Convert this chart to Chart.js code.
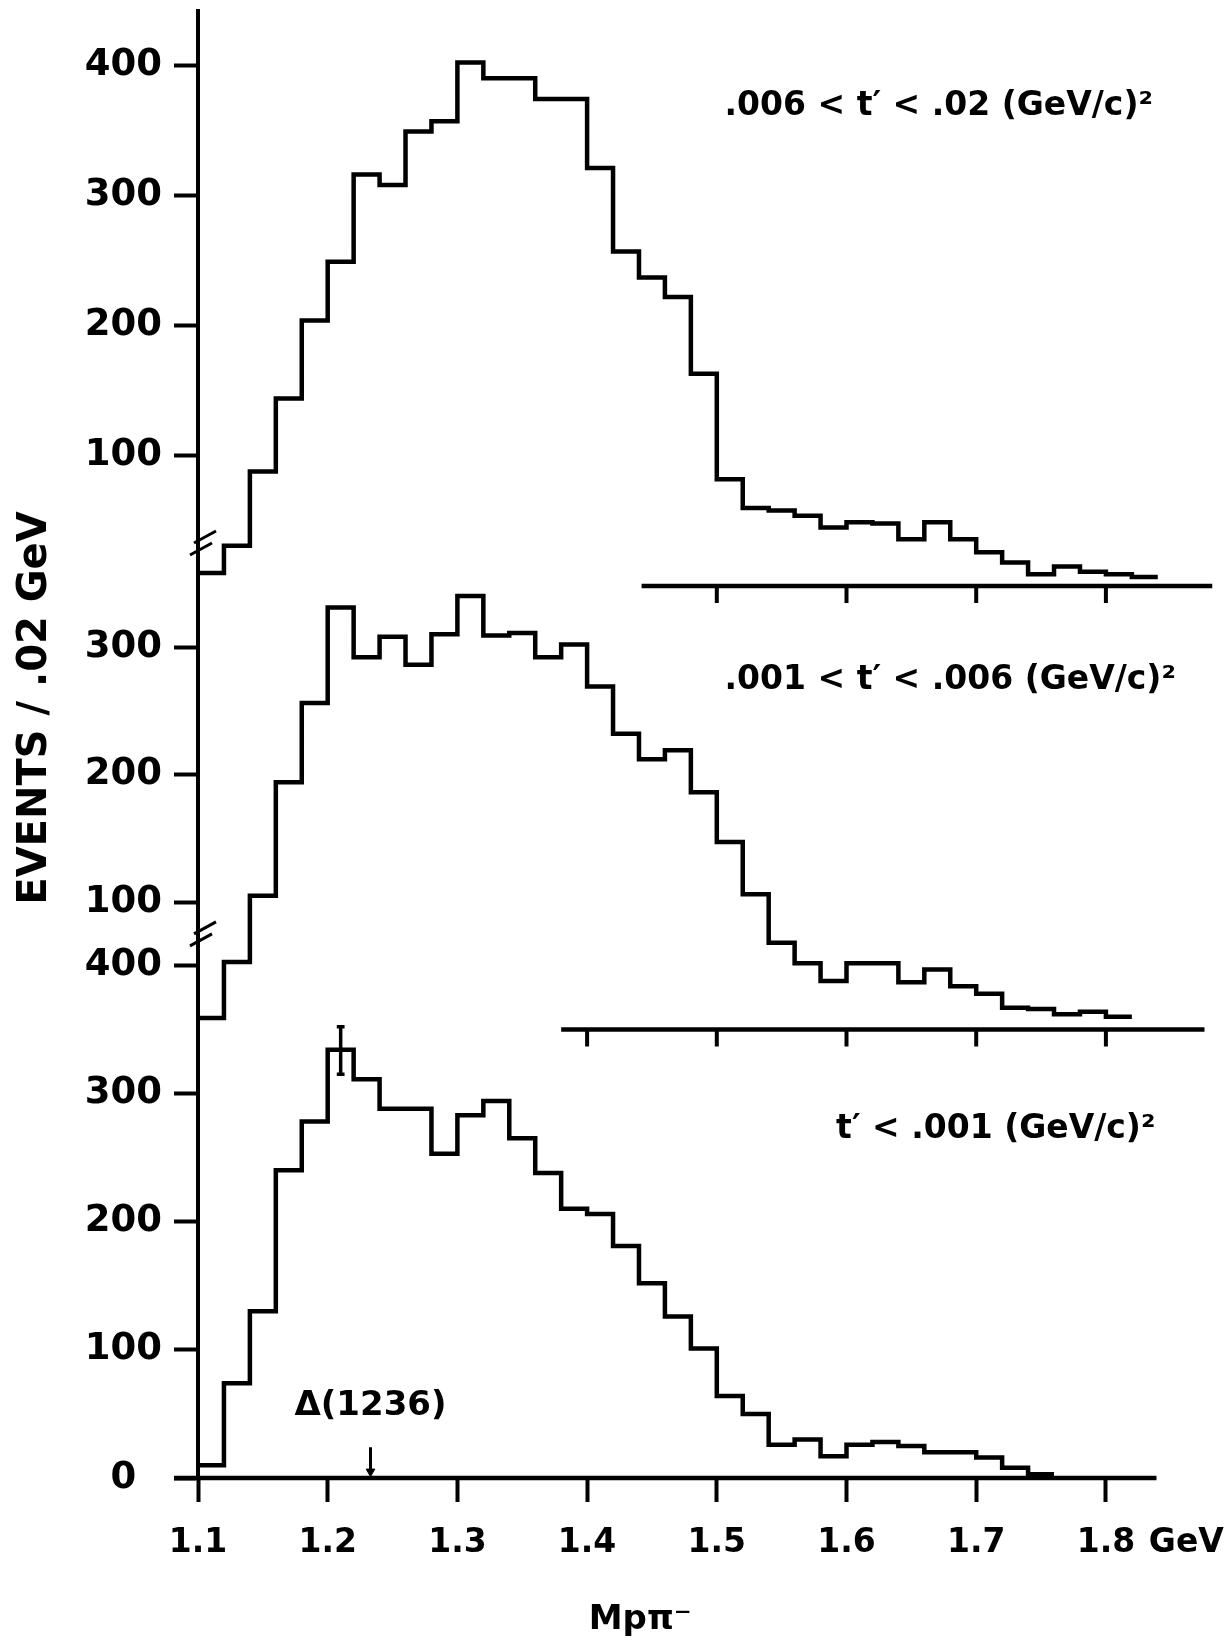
<!DOCTYPE html>
<html>
<head>
<meta charset="utf-8">
<script src="https://cdn.jsdelivr.net/npm/chart.js@4.4.1/dist/chart.umd.min.js"></script>
<style>
  html, body { margin: 0; padding: 0; background: #fff; }
  #wrap { width: 1228px; height: 1642px; position: relative; }
</style>
</head>
<body>
<div id="wrap"><canvas id="c"></canvas></div>
<script>
// ---------------- DATA ----------------
const binStart = 1.10;   // GeV, left edge of first bin
const binWidth = 0.02;   // GeV per bin

// .006 < t' < .02 (GeV/c)^2  (bins 1.10 .. 1.84)
const topValues = [10, 31, 88, 144, 204, 249, 316, 308, 349, 357, 402, 390, 390, 374, 374, 321, 257, 237, 222, 163,
                   82, 60, 58, 54, 45, 49, 48, 36, 49, 36, 26, 18, 9, 15, 11, 9, 7];
// .001 < t' < .006 (GeV/c)^2 (bins 1.10 .. 1.82)
const midValues = [9, 53, 105, 194, 256, 331, 292, 308, 286, 310, 340, 309, 311, 292, 302, 269, 232, 212, 219, 186,
                   147, 106, 68, 52, 38, 52, 52, 37, 47, 34, 28, 17, 16, 12, 14, 10];
// t' < .001 (GeV/c)^2        (bins 1.10 .. 1.76)
const botValues = [10, 74, 130, 240, 278, 334, 311, 288, 288, 253, 283, 294, 265, 238, 210, 206, 181, 152, 126, 101,
                   64, 50, 26, 30, 17, 26, 28, 25, 20, 20, 16, 8, 3];

// error bar on the 1.20-1.22 bin of the lowest histogram: [x, low, high]
const errorBar = [1.21, 315, 352];
// Delta(1236) marker position (GeV) and arrow span in events
const deltaMarker = [1.233, 24, 5];

const xTickValues = [1.1, 1.2, 1.3, 1.4, 1.5, 1.6, 1.7, 1.8, 1.862];
const xTickLabels = ['1.1', '1.2', '1.3', '1.4', '1.5', '1.6', '1.7', '1.8', 'GeV'];
const botTickValues = [0, 100, 200, 300, 400];
const midTickValues = [100, 200, 300];
const topTickValues = [100, 200, 300, 400];
const topBaseTicks = [1.5, 1.6, 1.7, 1.8];
const midBaseTicks = [1.4, 1.5, 1.6, 1.7, 1.8];
// extent (GeV) of each panel's zero line
const topBaseRange = [1.442, 1.882];
const midBaseRange = [1.38, 1.876];
const botBaseRange = [1.0815, 1.839];

const panelLabels = ['.006 < t\u2032 < .02 (GeV/c)\u00B2', '.001 < t\u2032 < .006 (GeV/c)\u00B2', 't\u2032 < .001 (GeV/c)\u00B2'];
const yTitle = 'EVENTS / .02 GeV';
const xTitle = 'Mp\u03C0\u207B';
const deltaLabel = '\u0394(1236)';

// ---------------- LAYOUT ----------------
const W = 1228, H = 1642;
const AREA = { left: 198, right: 1220, top: 11, bottom: 1478 };
const PX_PER_GEV = 1297;
const PANEL = {
  yTop: { zero: 586, k: 1.302 },
  yMid: { zero: 1029.5, k: 1.275 },
  yBot: { zero: 1478, k: 1.282 }
};
function rangeOf(p) { return { min: (p.zero - AREA.bottom) / p.k, max: (p.zero - AREA.top) / p.k }; }
const xMin = 1.1, xMax = 1.1 + (AREA.right - AREA.left) / PX_PER_GEV;

// annotation anchors (in data units of the given axis)
const labelAnchors = [
  { x: 1.506, y: 368, axis: 'yTop' },
  { x: 1.506, y: 274, axis: 'yMid' },
  { x: 1.592, y: 272, axis: 'yBot' }
];
const breakAnchors = [ { y: 33, axis: 'yTop' }, { y: 75, axis: 'yMid' } ];
const deltaLabelAnchor = { x: 1.233, y: 56 };
const xTitleAnchor = { x: 1.441, py: 1620 };
const yTitleAnchor = { px: 36, py: 708 };

const FONT = 'DejaVu Sans';

// ---------------- BUILD ----------------
function histPoints(vals) {
  const pts = vals.map((v, i) => ({ x: +(binStart + i * binWidth).toFixed(3), y: v }));
  pts.push({ x: +(binStart + vals.length * binWidth).toFixed(3), y: vals[vals.length - 1] });
  return pts;
}
function baseLine(r) { return [{ x: r[0], y: 0 }, { x: r[1], y: 0 }]; }

const lineBase = { borderColor: '#000', backgroundColor: '#000', pointRadius: 0, fill: false, tension: 0,
                   borderCapStyle: 'butt', borderJoinStyle: 'miter' };
const cap = 0.003;
const errData = [
  { x: errorBar[0], y: errorBar[1] }, { x: errorBar[0], y: errorBar[2] }, { x: errorBar[0], y: null },
  { x: errorBar[0] - cap, y: errorBar[2] }, { x: errorBar[0] + cap, y: errorBar[2] }, { x: errorBar[0], y: null },
  { x: errorBar[0] - cap, y: errorBar[1] }, { x: errorBar[0] + cap, y: errorBar[1] }
];

const datasets = [
  { ...lineBase, label: 'top', data: histPoints(topValues), yAxisID: 'yTop', stepped: 'before', borderWidth: 4.5 },
  { ...lineBase, label: 'mid', data: histPoints(midValues), yAxisID: 'yMid', stepped: 'before', borderWidth: 4.5 },
  { ...lineBase, label: 'bot', data: histPoints(botValues), yAxisID: 'yBot', stepped: 'before', borderWidth: 4.5 },
  { ...lineBase, label: 'topBase', data: baseLine(topBaseRange), yAxisID: 'yTop', borderWidth: 4.5, clip: false },
  { ...lineBase, label: 'midBase', data: baseLine(midBaseRange), yAxisID: 'yMid', borderWidth: 4.5, clip: false },
  { ...lineBase, label: 'botBase', data: baseLine(botBaseRange), yAxisID: 'yBot', borderWidth: 4.5, clip: false },
  { ...lineBase, label: 'err', data: errData, yAxisID: 'yBot', borderWidth: 3.5, spanGaps: false },
  { ...lineBase, label: 'delta', data: [{ x: deltaMarker[0], y: deltaMarker[1] }, { x: deltaMarker[0], y: deltaMarker[2] }],
    yAxisID: 'yBot', borderWidth: 3, pointRadius: [0, 5], pointStyle: 'triangle', rotation: 180,
    pointBackgroundColor: '#000', pointBorderColor: '#000', pointBorderWidth: 1 }
];

function yAxis(id, tickVals, weight, showBorder) {
  const r = rangeOf(PANEL[id]);
  return {
    type: 'linear', position: 'left', weight: weight, min: r.min, max: r.max,
    afterBuildTicks: s => { s.ticks = tickVals.map(v => ({ value: v })); },
    afterFit: s => { s.width = showBorder ? AREA.left : 0; s.paddingTop = 0; s.paddingBottom = 0; },
    grid: { drawOnChartArea: false, drawTicks: true, tickLength: 24, tickWidth: 4, color: '#000' },
    border: { display: showBorder, width: 4, color: '#000' },
    ticks: { color: '#000', font: { family: FONT, size: 37, weight: 'bold' }, padding: 12,
             crossAlign: 'center', autoSkip: false, callback: v => String(v) }
  };
}

const extras = {
  id: 'extras',
  afterLayout(chart) {
    // the two overlaid panel axes share the left gutter of the main axis
    ['yMid', 'yTop'].forEach(id => {
      const s = chart.scales[id];
      s.left = 0;
      s.width = s.right - s.left;
    });
  },
  afterDatasetsDraw(chart) {
    const { ctx } = chart;
    const sc = chart.scales;
    const x = sc.x;
    ctx.save();
    ctx.strokeStyle = '#000'; ctx.fillStyle = '#000'; ctx.lineCap = 'butt';
    // ticks under the upper two zero lines
    ctx.lineWidth = 4;
    const tl = 17;
    [[topBaseTicks, sc.yTop], [midBaseTicks, sc.yMid]].forEach(([vals, ys]) => {
      const y0 = ys.getPixelForValue(0);
      vals.forEach(v => {
        const px = x.getPixelForValue(v);
        ctx.beginPath(); ctx.moveTo(px, y0); ctx.lineTo(px, y0 + tl); ctx.stroke();
      });
    });
    // axis breaks
    ctx.lineWidth = 3;
    const ax = x.getPixelForValue(1.1) + 5;
    breakAnchors.forEach(b => {
      const cy = sc[b.axis].getPixelForValue(b.y);
      [[2, -6], [-2, 6]].forEach(([dx, dy]) => {
        ctx.beginPath();
        ctx.moveTo(ax + dx - 11, cy + dy + 6);
        ctx.lineTo(ax + dx + 11, cy + dy - 6);
        ctx.stroke();
      });
    });
    // panel labels
    ctx.font = 'bold 33px "' + FONT + '"';
    ctx.textBaseline = 'middle'; ctx.textAlign = 'left';
    labelAnchors.forEach((a, i) => {
      ctx.fillText(panelLabels[i], x.getPixelForValue(a.x), sc[a.axis].getPixelForValue(a.y));
    });
    // Delta label
    ctx.font = 'bold 34px "' + FONT + '"';
    ctx.textAlign = 'center';
    ctx.fillText(deltaLabel, x.getPixelForValue(deltaLabelAnchor.x), sc.yBot.getPixelForValue(deltaLabelAnchor.y));
    // x title
    ctx.font = 'bold 34px "' + FONT + '"';
    ctx.fillText(xTitle, x.getPixelForValue(xTitleAnchor.x), xTitleAnchor.py);
    // y title
    ctx.save();
    ctx.translate(yTitleAnchor.px, yTitleAnchor.py);
    ctx.rotate(-Math.PI / 2);
    ctx.font = 'bold 40px "' + FONT + '"';
    ctx.textAlign = 'center';
    ctx.fillText(yTitle, 0, 0);
    ctx.restore();
    ctx.restore();
  }
};

new Chart(document.getElementById('c'), {
  type: 'line',
  data: { datasets },
  options: {
    responsive: true, maintainAspectRatio: false, animation: false, devicePixelRatio: 1,
    layout: { padding: { left: 0, right: W - AREA.right, top: AREA.top, bottom: 0 } },
    plugins: { legend: { display: false }, tooltip: { enabled: false } },
    scales: {
      x: {
        type: 'linear', position: 'bottom', min: xMin, max: xMax,
        afterBuildTicks: s => { s.ticks = xTickValues.map(v => ({ value: v })); },
        afterFit: s => { s.height = H - AREA.bottom; s.paddingLeft = 0; s.paddingRight = 0; },
        grid: { drawOnChartArea: false, drawTicks: true, tickLength: 24, tickWidth: 4, color: '#000',
                tickColor: c => (c.tick && c.tick.value > 1.85) ? 'rgba(0,0,0,0)' : '#000' },
        border: { display: false },
        ticks: { color: '#000', font: { family: FONT, size: 33, weight: 'bold' }, padding: 22,
                 maxRotation: 0, autoSkip: false, callback: (v, i) => xTickLabels[i] }
      },
      yBot: yAxis('yBot', botTickValues, 10, true),
      yMid: yAxis('yMid', midTickValues, 0, false),
      yTop: yAxis('yTop', topTickValues, 0, false)
    }
  },
  plugins: [extras]
});
</script>
</body>
</html>
